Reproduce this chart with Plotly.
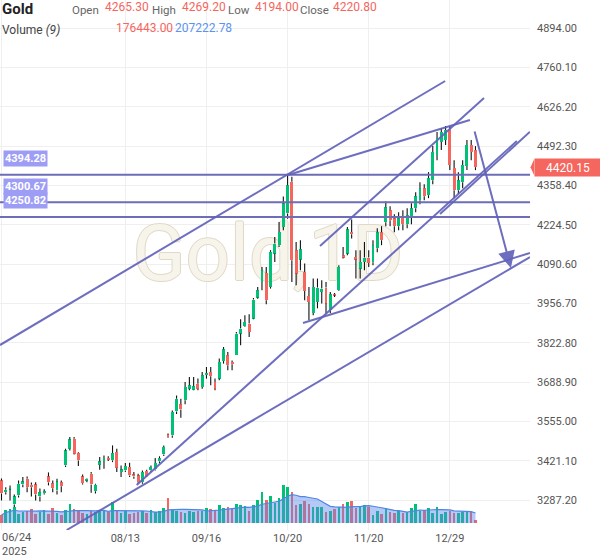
import plotly.graph_objects as go
import pandas as pd

# ---------------- data ----------------
x_tick_idx = [0, 29, 48, 67, 86, 105]
x_tick_labels = ["", "08/13", "09/16", "10/20", "11/20", "12/29"]
first_label = "06/24<br>2025"

y_ticks = [4894.00, 4760.10, 4626.20, 4492.30, 4358.40, 4224.50, 4090.60,
           3956.70, 3822.80, 3688.90, 3555.00, 3421.10, 3287.20]

opens = [3353.8, 3314.0, 3324.2, 3272.0, 3302.7, 3340.2, 3359.6, 3339.2, 3340.2, 3299.3,
         3310.6, 3367.5, 3344.6, 3319.8, 3348.0, 3405.0, 3461.8, 3496.0, 3448.2, 3367.5,
         3353.8, 3376.7, 3317.4, 3407.3, 3419.6, 3429.8, 3422.0, 3450.3, 3382.2, 3388.0,
         3399.2, 3374.3, 3370.9, 3348.0, 3385.6, 3388.0, 3391.4, 3418.6, 3442.4, 3510.5,
         3507.1, 3588.9, 3612.8, 3626.4, 3666.3, 3662.8, 3683.3, 3671.7, 3712.6, 3722.9,
         3688.8, 3700.4, 3760.3, 3779.7, 3756.9, 3779.7, 3853.7, 3878.6, 3887.8, 3904.8,
         3976.3, 4029.5, 4060.2, 4012.5, 4126.3, 4154.6, 4216.9, 4262.6, 4370.3, 4137.6,
         4105.8, 4063.6, 3981.8, 3923.9, 3961.4, 3995.4, 4010.4, 3933.1, 3987.6, 4001.2,
         4120.5, 4126.3, 4199.9, 4114.7, 4075.2, 4097.7, 4112.6, 4096.6, 4144.3, 4198.9,
         4233.0, 4273.8, 4246.6, 4219.3, 4253.4, 4226.1, 4253.4, 4280.6, 4307.9, 4348.8,
         4324.9, 4376.1, 4461.3, 4505.5, 4512.4, 4546.4, 4417.0, 4342.0, 4369.2, 4423.8,
         4495.3, 4478.3]
highs = [3360.6, 3331.0, 3336.8, 3306.1, 3353.8, 3365.1, 3367.5, 3347.0, 3348.0, 3326.6,
         3324.2, 3381.1, 3353.8, 3359.6, 3353.8, 3461.8, 3501.3, 3501.3, 3450.3, 3374.3,
         3361.6, 3382.2, 3342.6, 3433.2, 3439.0, 3436.0, 3473.1, 3461.8, 3405.0, 3412.8,
         3414.1, 3382.2, 3376.7, 3388.0, 3390.3, 3405.0, 3429.8, 3436.0, 3473.1, 3514.0,
         3592.3, 3643.0, 3632.2, 3688.8, 3705.8, 3705.8, 3700.4, 3722.9, 3739.9, 3739.9,
         3700.4, 3768.5, 3808.0, 3791.0, 3762.0, 3859.2, 3902.4, 3916.0, 3919.4, 3975.0,
         4012.5, 4080.6, 4080.6, 4137.6, 4182.9, 4234.0, 4320.4, 4393.1, 4387.3, 4165.8,
         4171.6, 4092.2, 4012.5, 4041.1, 4041.1, 4035.3, 4029.5, 3995.4, 3992.0, 4086.4,
         4148.8, 4216.9, 4242.1, 4137.6, 4137.6, 4165.8, 4137.6, 4171.6, 4212.5, 4219.3,
         4304.5, 4287.4, 4260.2, 4267.0, 4273.8, 4280.6, 4297.7, 4335.2, 4369.2, 4362.4,
         4403.3, 4491.9, 4539.6, 4553.2, 4560.0, 4560.0, 4444.2, 4403.3, 4444.2, 4512.4,
         4512.4, 4491.9]
lows = [3285.6, 3306.1, 3285.6, 3255.0, 3295.9, 3331.0, 3314.0, 3299.3, 3285.6, 3282.2,
        3306.1, 3336.8, 3314.0, 3306.1, 3314.0, 3399.2, 3456.0, 3442.4, 3402.6, 3340.2,
        3348.0, 3311.9, 3309.5, 3390.3, 3394.0, 3419.6, 3416.2, 3382.2, 3365.1, 3382.2,
        3365.1, 3359.6, 3342.6, 3342.6, 3365.1, 3382.2, 3388.0, 3412.0, 3436.6, 3499.3,
        3499.3, 3580.0, 3567.5, 3612.8, 3660.5, 3660.5, 3660.5, 3666.3, 3700.4, 3677.5,
        3660.5, 3694.6, 3751.4, 3728.6, 3728.6, 3779.7, 3813.8, 3876.2, 3842.2, 3902.4,
        3972.7, 4001.2, 3953.5, 4007.0, 4097.7, 4148.8, 4205.7, 4245.0, 4029.5, 4018.3,
        4069.4, 3967.2, 3899.0, 3916.0, 3939.7, 3955.9, 3921.9, 3922.8, 3978.0, 3998.8,
        4109.2, 4120.5, 4177.4, 4041.1, 4041.1, 4069.4, 4080.6, 4086.4, 4130.7, 4154.6,
        4219.3, 4219.3, 4198.9, 4205.7, 4205.7, 4212.5, 4226.1, 4267.0, 4294.3, 4307.9,
        4314.7, 4362.4, 4444.2, 4478.3, 4495.3, 4410.2, 4314.7, 4328.3, 4348.8, 4410.2,
        4444.2, 4410.2]
closes = [3309.5, 3322.2, 3327.6, 3299.3, 3342.6, 3350.4, 3331.0, 3331.0, 3306.1, 3314.0,
          3317.4, 3347.0, 3327.6, 3350.4, 3334.4, 3456.0, 3493.5, 3444.8, 3422.0, 3344.6,
          3359.6, 3340.2, 3339.2, 3418.6, 3429.8, 3424.4, 3446.9, 3397.3, 3391.4, 3402.6,
          3370.9, 3367.5, 3348.0, 3382.2, 3368.5, 3399.2, 3412.8, 3429.8, 3467.3, 3501.3,
          3586.5, 3632.2, 3595.7, 3671.7, 3677.5, 3674.1, 3666.3, 3711.6, 3719.4, 3708.2,
          3666.3, 3756.9, 3800.2, 3745.6, 3749.1, 3853.7, 3870.7, 3893.2, 3859.2, 3969.5,
          4001.2, 4069.4, 3967.2, 4131.8, 4160.4, 4199.9, 4296.7, 4359.0, 4103.5, 4058.1,
          4141.0, 3998.8, 3961.4, 4012.5, 4010.4, 4007.0, 3955.9, 3987.6, 3984.2, 4080.6,
          4112.6, 4208.1, 4192.1, 4105.8, 4097.7, 4112.6, 4094.3, 4154.6, 4198.9, 4171.6,
          4284.0, 4239.8, 4219.3, 4246.6, 4226.1, 4256.8, 4280.6, 4321.5, 4348.8, 4321.5,
          4382.9, 4471.5, 4519.2, 4539.6, 4546.4, 4427.2, 4342.0, 4376.1, 4427.2, 4495.3,
          4471.5, 4420.15]
volumes = [118400, 192400, 207200, 236800, 133200, 162800, 177600, 207200, 133200, 162800,
           192400, 133200, 222000, 148000, 118400, 192400, 281200, 207200, 192400, 148000,
           133200, 177600, 162800, 192400, 177600, 162800, 310800, 192400, 148000, 177600,
           133200, 148000, 162800, 177600, 148000, 192400, 162800, 177600, 222000, 370000,
           192400, 177600, 162800, 148000, 177600, 162800, 177600, 182000, 217600, 202800,
           182000, 262000, 217600, 236800, 217600, 285600, 262000, 247200, 182000, 262000,
           340400, 463200, 340400, 399600, 300400, 365600, 562400, 537200, 463200, 266400,
           285600, 330000, 285600, 232400, 232400, 232400, 167200, 182000, 202800, 241200,
           281200, 315200, 330000, 217600, 232400, 266400, 232400, 118400, 182000, 133200,
           202800, 167200, 152400, 182000, 152400, 167200, 222000, 281200, 182000, 192400,
           217600, 152400, 232400, 133200, 167200, 182000, 152400, 143600, 167200, 182000,
           162800, 44400]

level_lines = [4394.28, 4300.67, 4250.82]
last_price = 4420.15

# trend lines: (bar index, price) -> (bar index, price)
trend_lines = [
    ((-0.35, 3814.8), (103.9, 4713.6)),
    ((15.27, 3185.0), (123.77, 4114.4)),
    ((31.66, 3338.2), (120.7, 4509.3)),
    ((102.7, 4260.8), (123.77, 4541.0)),
    ((74.6, 4151.9), (113.0, 4655.7)),
    ((70.6, 3889.7), (123.77, 4128.0)),
    ((67.1, 4393.6), (109.7, 4580.8)),
]
arrow_from = (110.7, 4546.8)
arrow_to = (119.3, 4077.0)
watermark_pos = (62.4, 4104.0)

# ---------------- styling ----------------
UP = "#00c176"
DOWN = "#f4665e"
LINE = "rgba(98,98,186,0.92)"
HLINE = "#6d6db8"
FONT = "Roboto"
PW, PH = 530, 530  # plot area px

n = len(closes)
idx = list(range(n))
up = [c >= o for o, c in zip(opens, closes)]

fig = go.Figure()

# watermark (bottom layer)
fig.add_trace(go.Scatter(
    x=[watermark_pos[0]], y=[watermark_pos[1]], mode="text", text=["Gold,1D"],
    textfont=dict(family=FONT, size=78, color="#f7f4ec",
                  shadow="1px 0 0 #e0d9c6, -1px 0 0 #e0d9c6, 0 1px 0 #e0d9c6, 0 -1px 0 #e0d9c6"),
    hoverinfo="skip", showlegend=False, yaxis="y"))

# wicks (above and below body)
wx, wy = [], []
for i in idx:
    top = max(opens[i], closes[i]); bot = min(opens[i], closes[i])
    wx += [i, i, None, i, i, None]
    wy += [highs[i], top, None, bot, lows[i], None]
fig.add_trace(go.Scatter(x=wx, y=wy, mode="lines", line=dict(color="#111", width=1.1),
                         hoverinfo="skip", showlegend=False, yaxis="y2"))

# bodies
for flag, col in [(True, UP), (False, DOWN)]:
    xs = [i for i in idx if up[i] == flag]
    base = [min(opens[i], closes[i]) for i in xs]
    hgt = [max(abs(closes[i] - opens[i]), 2.5) for i in xs]
    fig.add_trace(go.Bar(x=xs, y=hgt, base=base, width=0.68, marker=dict(color=col, line=dict(width=0)),
                         hoverinfo="skip", showlegend=False, yaxis="y2"))

# volume
for flag, col in [(True, UP), (False, DOWN)]:
    xs = [i for i in idx if up[i] == flag]
    fig.add_trace(go.Bar(x=xs, y=[volumes[i] for i in xs], width=0.6,
                         marker=dict(color=col, line=dict(width=0)),
                         hoverinfo="skip", showlegend=False, yaxis="y3"))
ma = pd.Series(volumes).rolling(9, min_periods=1).mean()
fig.add_trace(go.Scatter(x=idx, y=ma, mode="lines", fill="tozeroy",
                         fillcolor="rgba(90,135,235,0.45)", line=dict(color="#4f86e6", width=1.2),
                         hoverinfo="skip", showlegend=False, yaxis="y3"))

# shapes
shapes = []
for lv in level_lines:
    shapes.append(dict(type="line", xref="paper", x0=0, x1=1, yref="y", y0=lv, y1=lv,
                       line=dict(color=HLINE, width=2)))
for (x0, y0), (x1, y1) in trend_lines:
    shapes.append(dict(type="line", xref="x", yref="y", x0=x0, y0=y0, x1=x1, y1=y1,
                       line=dict(color=LINE, width=2)))
shapes.append(dict(type="path", xref="paper", yref="y",
                   path=f"M 1.001 {last_price} L 1.008 {last_price + 28} L 1.008 {last_price - 28} Z",
                   fillcolor=DOWN, line=dict(width=0)))

def px(x):
    return x / PW

def py(y):
    return 1 - y / PH

ann = []
# arrow
ann.append(dict(x=arrow_to[0], y=arrow_to[1], ax=arrow_from[0], ay=arrow_from[1],
                xref="x", yref="y", axref="x", ayref="y", text="", showarrow=True,
                arrowhead=2, arrowsize=1.7, arrowwidth=2, arrowcolor=LINE))
# header
hdr = [
    ("<b>Gold</b>", 0, 9, 15, "#222"),
    ("Open", 70, 10, 11.5, "#666"), ("4265.30", 103, 7, 12, DOWN),
    ("High", 150, 10, 11.5, "#666"), ("4269.20", 180, 7, 12, DOWN),
    ("Low", 226, 10, 11.5, "#666"), ("4194.00", 253, 7, 12, DOWN),
    ("Close", 298, 10, 11.5, "#666"), ("4220.80", 331, 7, 12, DOWN),
    ("Volume <i>(9)</i>", 0, 30, 12, "#444"),
    ("176443.00", 114, 28, 12, DOWN), ("207222.78", 173, 28, 12, "#5b93ee"),
]
for t, x, y, s, c in hdr:
    ann.append(dict(text=t, xref="paper", yref="paper", x=px(x), y=py(y), xanchor="left",
                    yanchor="middle", showarrow=False, font=dict(family=FONT, size=s, color=c)))
# left level labels
for lv in level_lines:
    ann.append(dict(text=f"<b>{lv:.2f}</b>", xref="paper", yref="y", x=px(3), y=lv, yshift=16,
                    xanchor="left", yanchor="middle", showarrow=False, bgcolor="#9d9df6",
                    borderpad=1, font=dict(family=FONT, size=11, color="white")))
# last price label
ann.append(dict(text=f"{last_price:.2f}", xref="paper", yref="y", x=1, y=last_price, xshift=4,
                xanchor="left", yanchor="middle", showarrow=False, bgcolor=DOWN, width=62, height=13,
                borderpad=2, font=dict(family=FONT, size=12, color="white")))
# first x label
ann.append(dict(text=first_label, xref="paper", yref="paper", x=0, y=py(529), xanchor="left",
                yanchor="top", align="left", showarrow=False,
                font=dict(family=FONT, size=11, color="#555")))

ymin = 3287.2 - 30 * (4894.0 - 3287.2) / 472
ymax = 4894.0 + 28 * (4894.0 - 3287.2) / 472
vpp = 14800
fig.update_layout(
    width=600, height=558, margin=dict(l=0, r=70, t=0, b=28),
    paper_bgcolor="white", plot_bgcolor="white", barmode="overlay", bargap=0,
    showlegend=False, shapes=shapes, annotations=ann,
    font=dict(family=FONT),
    xaxis=dict(range=[-0.35, (PW - 1.5) / 4.27], tickvals=x_tick_idx, ticktext=x_tick_labels,
               showgrid=True, gridcolor="#efefef", zeroline=False, showline=False, ticks="",
               tickfont=dict(size=11, color="#555")),
    yaxis=dict(side="right", range=[ymin, ymax], tickvals=y_ticks,
               ticktext=[f"{v:.2f}" for v in y_ticks], showgrid=True, gridcolor="#efefef",
               zeroline=False, showline=False, ticks="", ticklabelstandoff=6,
               tickfont=dict(size=11, color="#555")),
    yaxis2=dict(overlaying="y", range=[ymin, ymax], visible=False),
    yaxis3=dict(overlaying="y", range=[-7 * vpp, (PH - 7) * vpp], visible=False),
)

fig.write_html("out.html")
